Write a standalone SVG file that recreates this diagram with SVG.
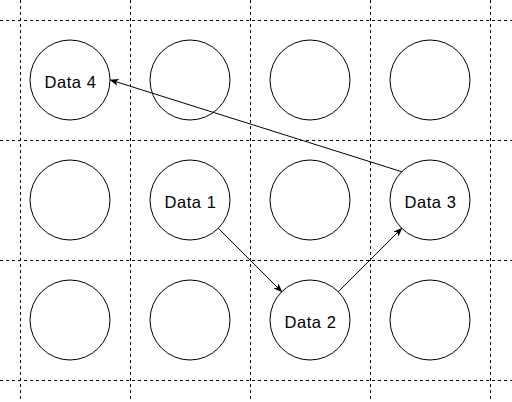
<svg xmlns="http://www.w3.org/2000/svg" width="512" height="402" viewBox="0 0 512 402">
<style>
.grid{stroke:#000;stroke-width:1;stroke-dasharray:3 3;fill:none}
.node{fill:#fff;stroke:#000;stroke-width:1}
.lbl{font-family:"Liberation Sans",Arial,sans-serif;font-size:16.5px;letter-spacing:0.6px;fill:#000;text-anchor:middle}
.edge{stroke:#000;stroke-width:1;fill:none;marker-end:url(#arr)}
</style>
<defs>
<marker id="arr" viewBox="0 0 10 10" refX="9" refY="5" markerWidth="9" markerHeight="9" markerUnits="userSpaceOnUse" orient="auto">
<path d="M0,1 L10,5 L0,9 L2.5,5 Z" fill="#000"/>
</marker>
</defs>
<rect width="512" height="402" fill="#fff"/>
<g id="grid">
<line class="grid" x1="20.5" y1="0" x2="20.5" y2="402"/>
<line class="grid" x1="130.5" y1="0" x2="130.5" y2="402"/>
<line class="grid" x1="250.5" y1="0" x2="250.5" y2="402"/>
<line class="grid" x1="370.5" y1="0" x2="370.5" y2="402"/>
<line class="grid" x1="490.5" y1="0" x2="490.5" y2="402"/>
<line class="grid" x1="0" y1="20.5" x2="512" y2="20.5"/>
<line class="grid" x1="0" y1="140.5" x2="512" y2="140.5"/>
<line class="grid" x1="0" y1="260.5" x2="512" y2="260.5"/>
<line class="grid" x1="0" y1="380.5" x2="512" y2="380.5"/>
</g>
<g id="data4"><circle class="node" cx="70" cy="80" r="40"/><text class="lbl" x="70.5" y="88.3">Data 4</text></g>
<g id="n12"><circle class="node" cx="190" cy="80" r="40"/></g>
<g id="n13"><circle class="node" cx="310" cy="80" r="40"/></g>
<g id="n14"><circle class="node" cx="430" cy="80" r="40"/></g>
<g id="n21"><circle class="node" cx="70" cy="200" r="40"/></g>
<g id="data1"><circle class="node" cx="190" cy="200" r="40"/><text class="lbl" x="190.5" y="208.3">Data 1</text></g>
<g id="n23"><circle class="node" cx="310" cy="200" r="40"/></g>
<g id="data3"><circle class="node" cx="430" cy="200" r="40"/><text class="lbl" x="430.5" y="208.3">Data 3</text></g>
<g id="n31"><circle class="node" cx="70" cy="320" r="40"/></g>
<g id="n32"><circle class="node" cx="190" cy="320" r="40"/></g>
<g id="data2"><circle class="node" cx="310" cy="320" r="40"/><text class="lbl" x="310.5" y="328.3">Data 2</text></g>
<g id="n34"><circle class="node" cx="430" cy="320" r="40"/></g>
<g id="connectors">
<line class="edge" x1="218.3" y1="228.3" x2="281.7" y2="291.7"/>
<line class="edge" x1="338.3" y1="291.7" x2="401.7" y2="228.3"/>
<line class="edge" x1="401.7" y1="171.7" x2="110.5" y2="80"/>
</g>
</svg>
